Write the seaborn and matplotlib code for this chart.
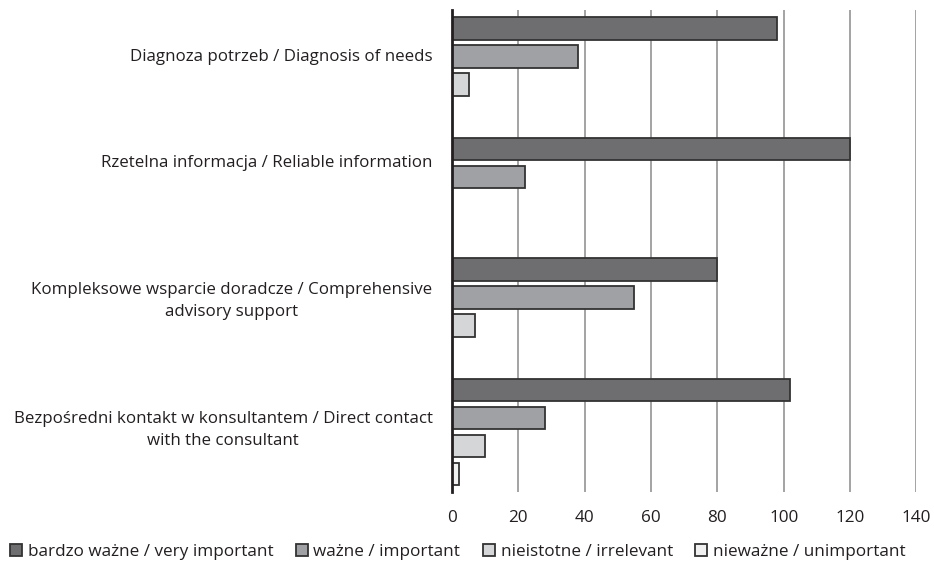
import pandas as pd
import matplotlib.pyplot as plt
import seaborn as sns

# ---------- data ----------
categories = [
    "Diagnoza potrzeb / Diagnosis of needs",
    "Rzetelna informacja / Reliable information",
    "Kompleksowe wsparcie doradcze / Comprehensive\nadvisory support",
    "Bezpośredni kontakt w konsultantem / Direct contact\nwith the consultant",
]
series = [
    "bardzo ważne / very important",
    "ważne / important",
    "nieistotne / irrelevant",
    "nieważne / unimportant",
]
very_important = [98, 120, 80, 102]
important = [38, 22, 55, 28]
irrelevant = [5, 0, 7, 10]
unimportant = [0, 0, 0, 2]

colors = ["#6d6e71", "#a0a1a4", "#d5d6d7", "#f1f1f1"]

rows = []
for s, vals in zip(series, [very_important, important, irrelevant, unimportant]):
    for c, v in zip(categories, vals):
        rows.append({"category": c, "series": s, "value": v})
df = pd.DataFrame(rows)

# ---------- plot ----------
sns.set_style("white")
plt.rcParams["font.family"] = ["Open Sans", "DejaVu Sans"]
plt.rcParams["text.color"] = "#231f20"

fig = plt.figure(figsize=(9.34, 5.63), dpi=100)
ax = fig.add_axes([0.484, 0.126, 0.497, 0.856])

sns.barplot(
    data=df, y="category", x="value", hue="series", orient="h",
    palette=colors, width=0.93, gap=0.2, edgecolor="#333333",
    linewidth=1.3, ax=ax, legend=True,
)

ax.set_xlim(0, 140)
ax.set_xticks(range(0, 141, 20))
ax.set_ylim(3.5, -0.5)
ax.grid(axis="x", color="#a3a3a3", linewidth=1.4)
ax.set_axisbelow(True)
for side in ["top", "right", "bottom"]:
    ax.spines[side].set_visible(False)
ax.spines["left"].set_color("#231f20")
ax.spines["left"].set_linewidth(2)

# category labels sit a little above group centre, as in the source
ax.set_yticks([-0.13, 0.75, 1.87, 2.94])
ax.set_yticklabels(categories, multialignment="center", linespacing=1.5)
ax.tick_params(axis="y", length=0, pad=14, labelsize=12.2, labelcolor="#231f20")
ax.tick_params(axis="x", length=0, pad=13, labelsize=12.3, labelcolor="#231f20")
ax.set_xlabel("")
ax.set_ylabel("")

handles, labels = ax.get_legend_handles_labels()
ax.get_legend().remove()
fig.legend(
    handles, labels, loc="lower center", bbox_to_anchor=(0.49, -0.022),
    ncol=4, frameon=False, fontsize=12.3, handlelength=0.7, handleheight=0.7,
    handletextpad=0.35, columnspacing=1.3,
)

fig.savefig("out.png", dpi=100)
